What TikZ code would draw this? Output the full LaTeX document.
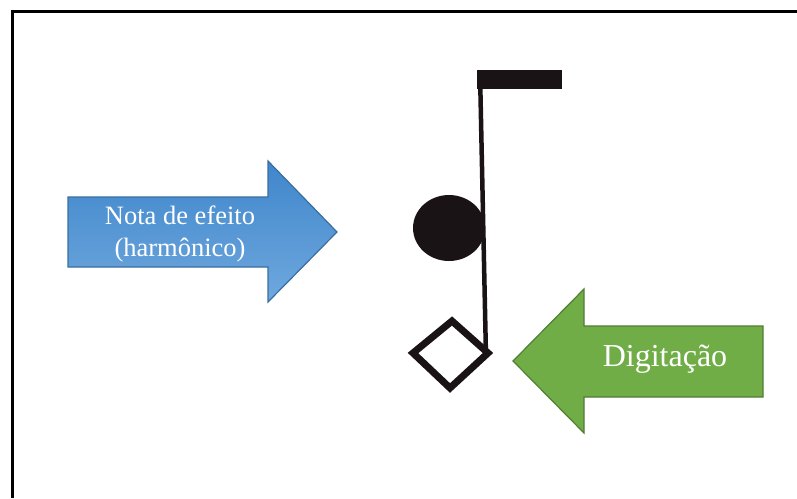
\documentclass[tikz,border=0pt]{standalone}
\usepackage{fontspec}
\setmainfont{Liberation Serif}
\definecolor{blueTop}{HTML}{3F86CB}
\definecolor{blueBot}{HTML}{6FA8DE}
\definecolor{blueEdge}{HTML}{3A6E9E}
\definecolor{greenFill}{HTML}{70AD47}
\definecolor{greenEdge}{HTML}{507E32}
\definecolor{ink}{HTML}{1A1315}
\tikzset{
  frame/.style={line width=3pt, black},
  label/.style={text=white, align=center, inner sep=0pt},
  ink/.style={fill=ink, draw=none}
}
\begin{document}
\begin{tikzpicture}[x=1pt, y=-1pt]
  \useasboundingbox (0,0) rectangle (797,498);
  % open frame (top and left sides)
  \draw[frame] (12,498) -- (12,11) -- (797,11);

  % blue arrow pointing right
  \draw[blueEdge, line width=1.2pt, top color=blueTop, bottom color=blueBot]
    (68,197) -- (268,197) -- (268,161) -- (337,232) -- (268,302)
    -- (268,267) -- (68,267) -- cycle;
  \node[label, font=\fontsize{26.5}{32}\selectfont] (efeito) at (180,234)
    {Nota de efeito\\(harmônico)};

  % green arrow pointing left
  \draw[greenEdge, line width=1.2pt, fill=greenFill]
    (763,326) -- (584,326) -- (584,289) -- (513,361) -- (584,433)
    -- (584,397) -- (763,397) -- cycle;
  \node[label, font=\fontsize{32}{36}\selectfont] (digitacao) at (665,359)
    {Digitação};

  % note: flag, stem, filled head and diamond head
  \fill[ink] (477,70) rectangle (562,89);
  \draw[draw=ink, line width=4.5pt] (480,72) -- (486,357);
  \fill[ink] (449,228) ellipse [x radius=36, y radius=33];
  \draw[draw=ink, line width=7pt, line join=miter]
    (413,353) -- (452,321) -- (488,353) -- (450,388) -- cycle;
\end{tikzpicture}
\end{document}
